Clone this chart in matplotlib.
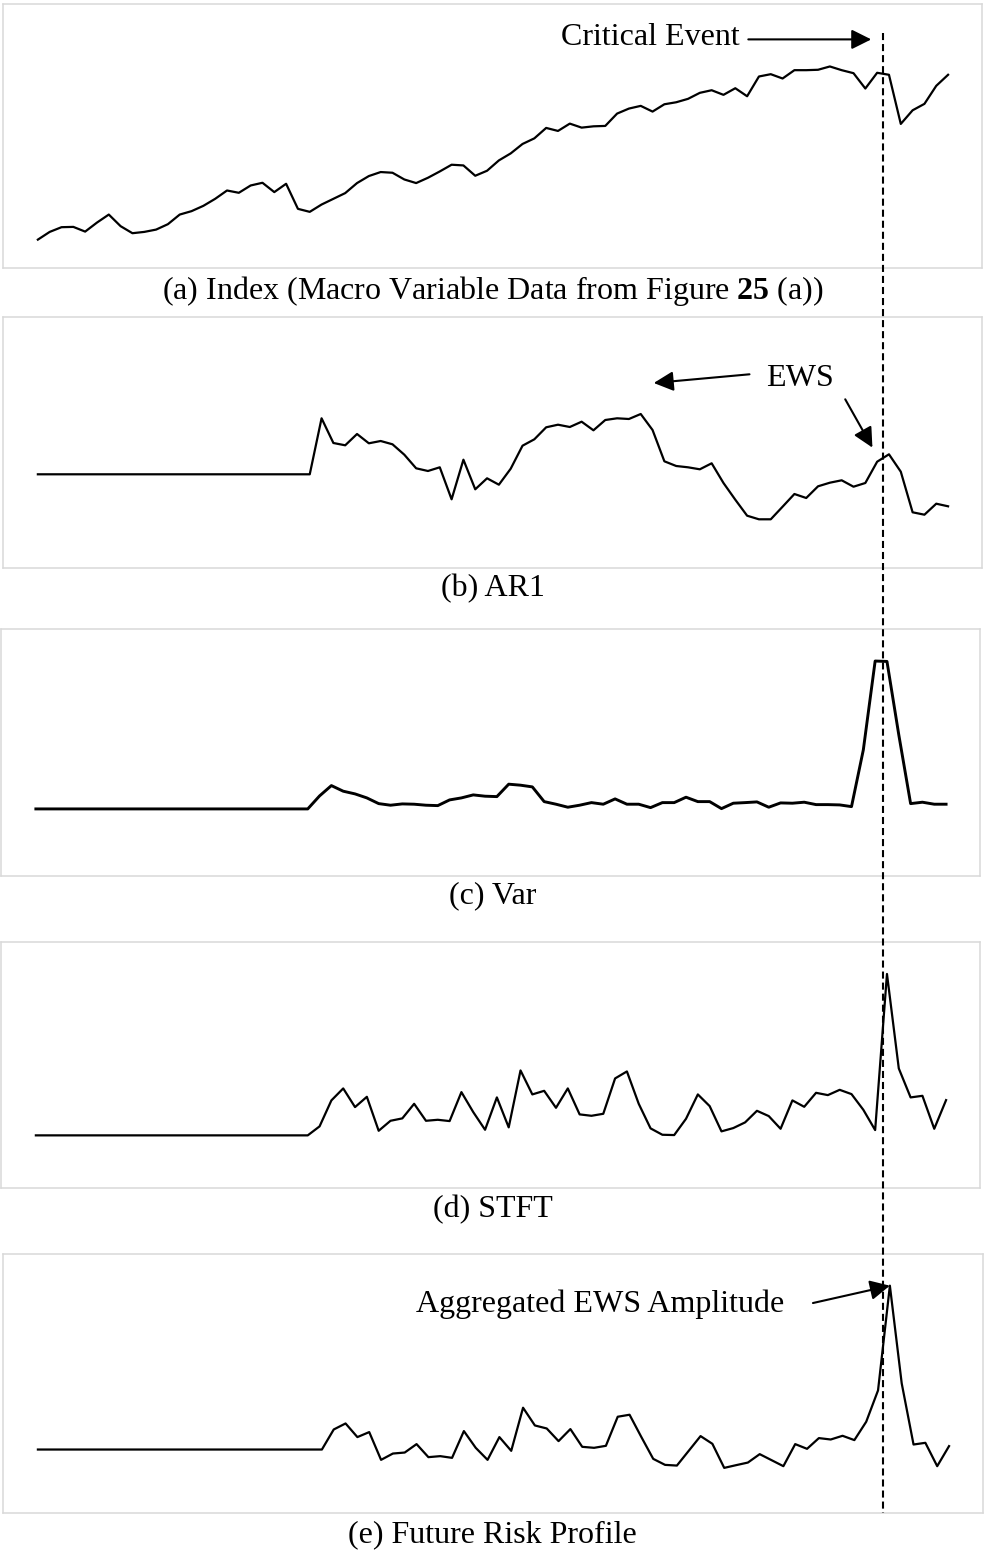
import matplotlib.pyplot as plt
from matplotlib.lines import Line2D
from matplotlib.transforms import blended_transform_factory

plt.rcParams['font.family'] = ['Liberation Serif', 'DejaVu Serif']
plt.rcParams['mathtext.fontset'] = 'custom'
plt.rcParams['mathtext.rm'] = 'Liberation Serif'
plt.rcParams['mathtext.bf'] = 'Liberation Serif:bold'

# series (arbitrary units), one value per time step
index_vals = [28.3, 36.0, 40.7, 41.0, 36.3, 45.3, 53.3, 41.7, 34.7, 36.0,
              38.3, 43.7, 53.3, 56.7, 62.0, 69.0, 77.3, 75.0, 82.3, 85.0,
              75.7, 84.0, 59.0, 56.0, 63.3, 69.0, 74.7, 84.7, 91.7, 95.7,
              95.0, 88.3, 84.7, 90.0, 96.3, 103.0, 102.3, 92.0, 97.0, 107.3,
              114.3, 123.7, 129.3, 139.7, 136.7, 144.0, 140.0, 141.3, 141.7, 154.0,
              159.0, 161.7, 156.0, 163.3, 165.3, 168.7, 174.7, 177.3, 172.7, 179.3,
              171.3, 191.0, 193.3, 189.0, 197.3, 197.3, 197.7, 201.0, 197.3, 194.3,
              179.0, 194.7, 192.7, 143.7, 157.3, 163.7, 181.7, 192.7]

ar1_vals = [93.7, 93.7, 93.7, 93.7, 93.7, 93.7, 93.7, 93.7, 93.7, 93.7, 93.7, 93.7,
            93.7, 93.7, 93.7, 93.7, 93.7, 93.7, 93.7, 93.7, 93.7, 93.7, 93.7, 93.7,
            149.7, 125.0, 122.7, 134.0, 124.7, 127.0, 123.7, 113.3, 99.7, 97.0,
            100.7, 68.7, 108.3, 78.7, 89.7, 83.3, 99.3, 122.3, 128.7, 140.7,
            143.3, 141.0, 146.3, 137.7, 148.0, 149.7, 149.0, 154.0, 138.0, 106.7,
            102.0, 100.7, 98.7, 104.7, 85.0, 68.3, 52.3, 48.7, 48.7, 61.3,
            74.0, 70.0, 81.7, 85.3, 87.7, 81.3, 85.0, 106.3, 113.7, 96.3,
            55.7, 53.3, 64.3, 61.7]

var_vals = [67.0, 67.0, 67.0, 67.0, 67.0, 67.0, 67.0, 67.0, 67.0, 67.0, 67.0, 67.0,
            67.0, 67.0, 67.0, 67.0, 67.0, 67.0, 67.0, 67.0, 67.0, 67.0, 67.0, 67.0,
            80.0, 90.3, 84.7, 82.0, 78.0, 72.3, 70.7, 72.0, 71.7, 70.7,
            70.3, 76.0, 78.0, 81.0, 79.7, 79.3, 91.7, 90.7, 89.0, 74.3,
            71.7, 68.7, 70.7, 73.3, 71.7, 77.0, 71.7, 71.7, 68.3, 73.3,
            73.3, 78.7, 74.3, 74.3, 67.3, 72.7, 73.3, 74.0, 68.7, 73.0,
            72.7, 73.7, 71.3, 71.3, 71.0, 69.3, 126.0, 214.7, 214.3, 141.0,
            72.3, 73.7, 71.7, 71.7]

stft_vals = [52.7, 52.7, 52.7, 52.7, 52.7, 52.7, 52.7, 52.7, 52.7, 52.7, 52.7, 52.7,
             52.7, 52.7, 52.7, 52.7, 52.7, 52.7, 52.7, 52.7, 52.7, 52.7, 52.7, 52.7,
             61.7, 87.7, 99.7, 81.0, 91.3, 57.3, 67.3, 69.7, 84.3, 67.3,
             68.3, 67.0, 96.0, 76.0, 58.3, 90.7, 60.7, 117.7, 93.7, 97.3,
             80.3, 99.7, 73.7, 72.3, 74.3, 109.7, 116.7, 84.3, 59.7, 53.3,
             53.0, 69.3, 93.7, 82.0, 56.7, 60.0, 65.7, 77.3, 72.0, 59.3,
             87.7, 81.3, 95.3, 93.0, 98.3, 94.0, 78.3, 58.0, 214.3, 119.7,
             90.7, 92.3, 59.3, 88.0]

risk_vals = [63.3, 63.3, 63.3, 63.3, 63.3, 63.3, 63.3, 63.3, 63.3, 63.3, 63.3, 63.3,
             63.3, 63.3, 63.3, 63.3, 63.3, 63.3, 63.3, 63.3, 63.3, 63.3, 63.3, 63.3,
             63.3, 83.3, 89.3, 75.7, 80.7, 53.0, 59.3, 60.3, 68.7, 55.7,
             56.7, 55.0, 81.7, 65.0, 53.0, 75.7, 62.0, 105.0, 87.3, 84.3,
             71.7, 83.7, 66.0, 65.0, 67.0, 96.0, 98.0, 75.7, 54.0, 48.0,
             47.3, 62.0, 76.7, 69.0, 45.0, 47.7, 50.3, 58.7, 52.7, 46.7,
             68.7, 64.0, 74.7, 73.3, 77.0, 72.7, 91.0, 122.3, 226.7, 129.3,
             68.3, 70.0, 46.7, 66.7]

captions = ['(a) Index (Macro Variable Data from Figure $\\mathbf{25}$ (a))',
            '(b) AR1', '(c) Var', '(d) STFT', '(e) Future Risk Profile']
event_step = 71.5

W, H = 985, 1555
FS = 23
fig = plt.figure(figsize=(W / 100, H / 100), dpi=100)


def px_axes(left, top, right, bottom):
    return fig.add_axes([left / W, 1 - bottom / H, (right - left) / W, (bottom - top) / H])


# (series, box in pixels, y top, line width, caption y)
layout = [
    (index_vals, (3, 4, 982, 268), 263.3, 1.6, 291),
    (ar1_vals, (3, 317, 982, 568), 251.0, 1.6, 589),
    (var_vals, (1, 629, 980, 876), 246.7, 2.1, 896),
    (stft_vals, (1, 942, 980, 1188), 246.3, 1.6, 1210),
    (risk_vals, (3, 1254, 983, 1513), 258.3, 1.6, 1535),
]

axes = []
for (vals, box, ytop, lw, cy), cap in zip(layout, captions):
    ax = px_axes(*box)
    ax.plot(range(len(vals)), vals, color='black', lw=lw)
    ax.set_xlim(-2.95, 79.87)
    ax.set_ylim(0, ytop)
    ax.set_xticks([])
    ax.set_yticks([])
    for s in ax.spines.values():
        s.set_color('#d9d9d9')
        s.set_linewidth(1.1)
    fig.text(0.5, 1 - cy / H, cap, ha='center', va='center', fontsize=FS)
    axes.append(ax)

ax_a, ax_b, ax_c, ax_d, ax_e = axes

arrow = dict(arrowstyle='-|>,head_length=0.6,head_width=0.3', mutation_scale=20,
             color='black', lw=1.5, shrinkA=0, shrinkB=0)

# event marker running through every panel
trans = blended_transform_factory(ax_a.transData, fig.transFigure)
fig.add_artist(Line2D([event_step, event_step], [1 - 33 / H, 1 - 1513 / H], transform=trans,
                      color='black', lw=1.5, dashes=(3.4, 1.9)))

ax_a.text(51.8, 230, 'Critical Event', ha='center', va='center', fontsize=FS)
ax_a.annotate('', xy=(70.5, 228), xytext=(60.1, 228), arrowprops=arrow)

ax_b.text(64.5, 190, 'EWS', ha='center', va='center', fontsize=FS)
ax_b.annotate('', xy=(52.1, 185), xytext=(60.2, 193.7), arrowprops=arrow)
ax_b.annotate('', xy=(70.6, 120.4), xytext=(68.3, 168.7), arrowprops=arrow)

ax_e.text(47.5, 207.7, 'Aggregated EWS Amplitude', ha='center', va='center', fontsize=FS)
ax_e.annotate('', xy=(72, risk_vals[72]), xytext=(65.5, 209.4), arrowprops=arrow)

fig.savefig('out.png', dpi=100)
